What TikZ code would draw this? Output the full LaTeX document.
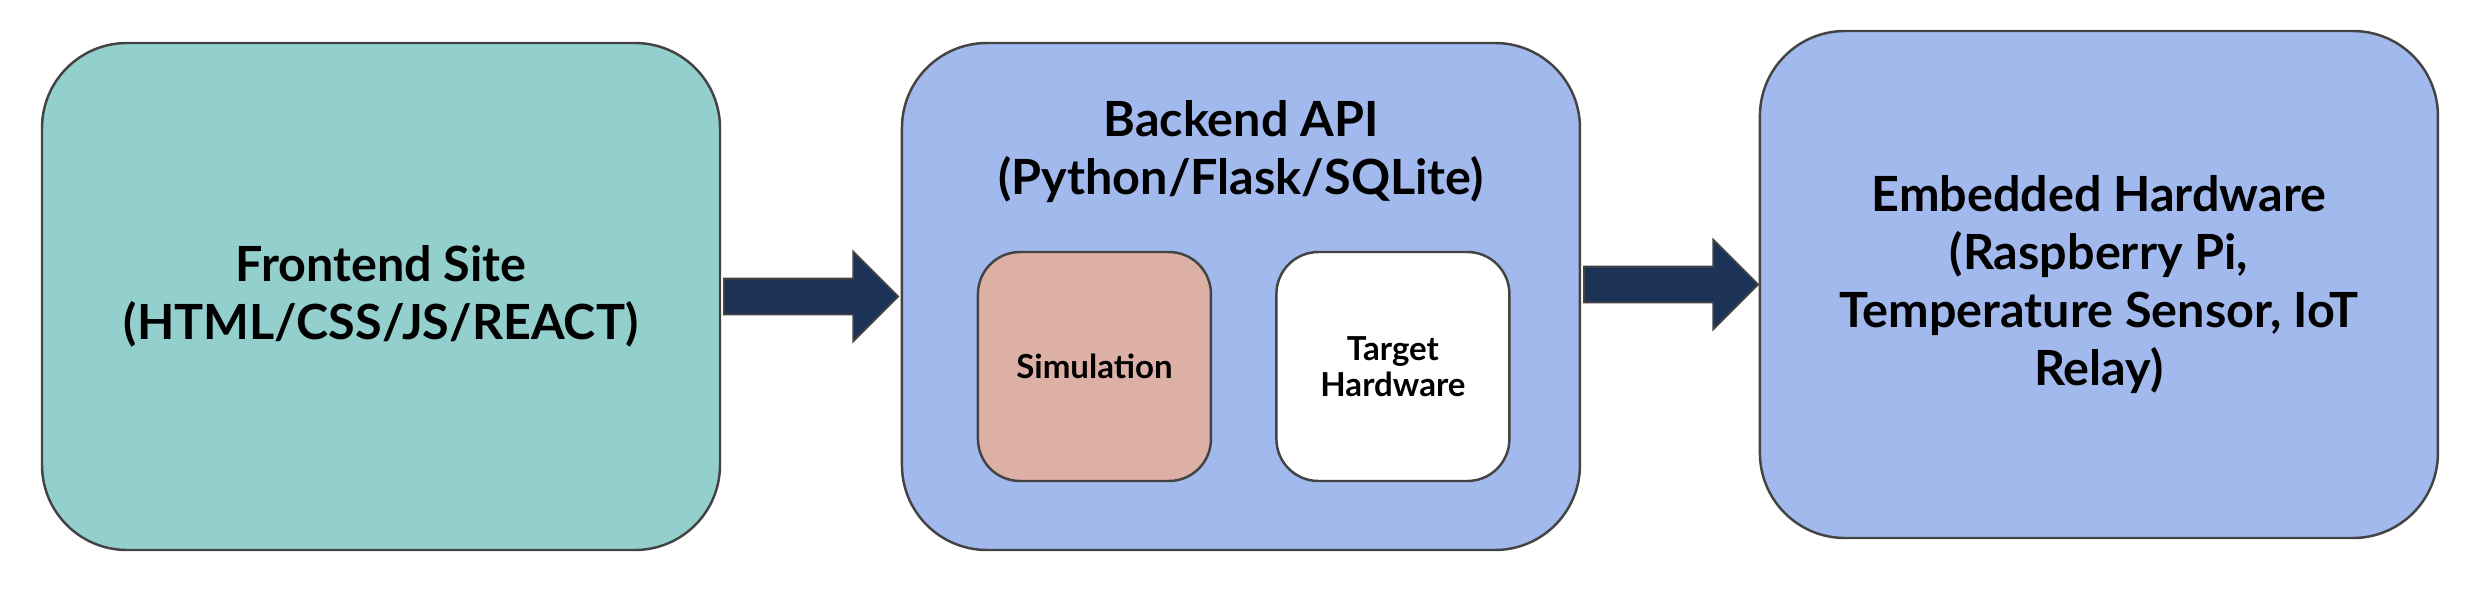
\documentclass[tikz,border=0pt]{standalone}
\usepackage{fontspec}
\setmainfont{Lato}
\usetikzlibrary{calc}
\usetikzlibrary{positioning,shapes.arrows}
\definecolor{cus-teal}{RGB}{147,208,205}
\definecolor{cus-blue}{RGB}{162,185,238}
\definecolor{cus-rose}{RGB}{220,176,165}
\definecolor{cus-navy}{RGB}{28,50,86}
\definecolor{cus-line}{RGB}{67,67,67}

\begin{document}
\begin{tikzpicture}[
	box/.style={draw=cus-line,line width=.7pt,rounded corners=.85cm,minimum width=6.78cm,minimum height=5.07cm,align=center,inner sep=0pt,font=\bfseries\fontsize{13.8}{16.5}\selectfont},
	inbox/.style={draw=cus-line,line width=.7pt,rounded corners=.42cm,minimum width=2.33cm,minimum height=2.29cm,align=center,inner sep=0pt,font=\bfseries\fontsize{9.4}{10.4}\selectfont},
	bigarrow/.style={single arrow,draw=cus-line,fill=cus-navy,line width=.5pt,minimum height=1.74cm,text height=.17cm,text depth=.17cm,single arrow head extend=.27cm,inner sep=0pt,anchor=tail}]
\useasboundingbox (0,0) rectangle (24.84,5.88);
\node[box,fill=cus-teal] (front) at (3.81,2.915) {Frontend Site\\(HTML/CSS/JS/REACT)};
\node[box,fill=cus-blue,right=1.795cm of front] (back) {};
\node[box,fill=cus-blue,right=1.775cm of back,yshift=.12cm] (embed) {Embedded Hardware\\(Raspberry Pi,\\Temperature Sensor, IoT\\Relay)};
\node[font=\bfseries\fontsize{13.8}{16.5}\selectfont,align=center,inner sep=0pt] (backtitle) at ($(back.north)+(0,-1.095)$) {Backend API\\(Python/Flask/SQLite)};
\node[inbox,fill=cus-rose] (sim) at ($(back.center)+(-1.465,-.7)$) {Simulation};
\node[inbox,fill=white,right=.63cm of sim] (target) {Target\\Hardware};
% arrows between the blocks
\node[bigarrow] (arr1) at ($(front.east)+(.02,0)$) {};
\node[bigarrow] (arr2) at ($(back.east |- embed)+(.02,0)$) {};
\end{tikzpicture}
\end{document}
